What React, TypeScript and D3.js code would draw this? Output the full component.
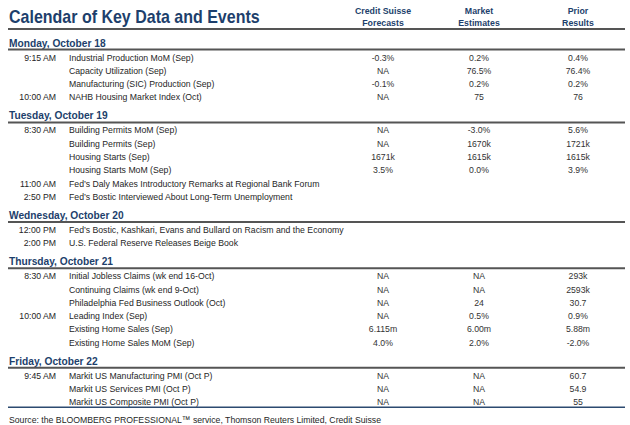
import React from 'react';
import * as d3 from 'd3';

const title = 'Calendar of Key Data and Events';
const columnHeaders = [['Credit Suisse', 'Forecasts'], ['Market', 'Estimates'], ['Prior', 'Results']];
const days = ['Monday, October 18', 'Tuesday, October 19', 'Wednesday, October 20', 'Thursday, October 21', 'Friday, October 22'];
const dayIndex = [0, 0, 0, 0, 1, 1, 1, 1, 1, 1, 2, 2, 3, 3, 3, 3, 3, 3, 4, 4, 4];
const times = ['9:15 AM', '', '', '10:00 AM', '8:30 AM', '', '', '', '11:00 AM', '2:50 PM', '12:00 PM', '2:00 PM', '8:30 AM', '', '', '10:00 AM', '', '', '9:45 AM', '', ''];
const events = [
  'Industrial Production MoM (Sep)',
  'Capacity Utilization (Sep)',
  'Manufacturing (SIC) Production (Sep)',
  'NAHB Housing Market Index (Oct)',
  'Building Permits MoM (Sep)',
  'Building Permits (Sep)',
  'Housing Starts (Sep)',
  'Housing Starts MoM (Sep)',
  'Fed\u2019s Daly Makes Introductory Remarks at Regional Bank Forum',
  'Fed\u2019s Bostic Interviewed About Long-Term Unemployment',
  'Fed\u2019s Bostic, Kashkari, Evans and Bullard on Racism and the Economy',
  'U.S. Federal Reserve Releases Beige Book',
  'Initial Jobless Claims (wk end 16-Oct)',
  'Continuing Claims (wk end 9-Oct)',
  'Philadelphia Fed Business Outlook (Oct)',
  'Leading Index (Sep)',
  'Existing Home Sales (Sep)',
  'Existing Home Sales MoM (Sep)',
  'Markit US Manufacturing PMI (Oct P)',
  'Markit US Services PMI (Oct P)',
  'Markit US Composite PMI (Oct P)',
];
const csForecasts = ['-0.3%', 'NA', '-0.1%', 'NA', 'NA', 'NA', '1671k', '3.5%', '', '', '', '', 'NA', 'NA', 'NA', 'NA', '6.115m', '4.0%', 'NA', 'NA', 'NA'];
const marketEstimates = ['0.2%', '76.5%', '0.2%', '75', '-3.0%', '1670k', '1615k', '0.0%', '', '', '', '', 'NA', 'NA', '24', '0.5%', '6.00m', '2.0%', 'NA', 'NA', 'NA'];
const priorResults = ['0.4%', '76.4%', '0.2%', '76', '5.6%', '1721k', '1615k', '3.9%', '', '', '', '', '293k', '2593k', '30.7', '0.9%', '5.88m', '-2.0%', '60.7', '54.9', '55'];
const sourceNote = 'Source: the BLOOMBERG PROFESSIONAL\u2122 service, Thomson Reuters Limited, Credit Suisse';

const W = 630;
const H = 425;
const FONT = '"Liberation Sans", Arial, Helvetica, sans-serif';
const NAVY = '#1d3f6c';
const TEXT = '#262626';
const RULE = '#555555';

type TProps = {
  x: number; y: number; sx: number; size: number; anchor?: string; bold?: boolean; fill: string; children: React.ReactNode;
};
function T({ x, y, sx, size, anchor = 'start', bold = false, fill, children }: TProps) {
  return (
    <text transform={`translate(${x},${y}) scale(${sx},1)`} textAnchor={anchor} fontSize={size}
      fontWeight={bold ? 'bold' : 'normal'} fill={fill}>{children}</text>
  );
}

export default function App() {
  const columnX = d3.scaleOrdinal<number, number>().domain([0, 1, 2]).range([383, 479, 578]);
  const rowY = d3.scaleLinear().domain([0, 1]).range([57, 70.3]);
  const dayGap = 19.7;
  const yOf = (i: number) => rowY(i) + dayIndex[i] * dayGap;
  const valueCols = [csForecasts, marketEstimates, priorResults];

  const dayRules = days.map((_, d) => yOf(dayIndex.indexOf(d)) - 7.5);
  const lastY = yOf(events.length - 1);
  const BSX = 0.88;
  const BS = 8.7 / BSX;

  return (
    <svg width={W} height={H} style={{ position: 'absolute', left: 0, top: 0, background: '#fff' }} fontFamily={FONT}>
      <rect width={W} height={H} fill="#fff" />
      <T x={9} y={23} sx={0.86} size={16 / 0.86} bold fill={NAVY}>{title}</T>
      {columnHeaders.map((lines, c) => (
        <g key={c}>
          {lines.map((l, k) => (
            <T key={k} x={columnX(c)} y={13.8 + k * 12} sx={0.9} size={8.8 / 0.9} anchor="middle" bold fill={NAVY}>{l}</T>
          ))}
        </g>
      ))}
      <line x1={8} x2={625} y1={29} y2={29} stroke={RULE} strokeWidth={2} />
      {days.map((d, k) => (
        <g key={d}>
          <T x={9} y={dayRules[k] - 3} sx={0.93} size={10.2 / 0.93} bold fill={NAVY}>{d}</T>
          <line x1={8} x2={625} y1={dayRules[k]} y2={dayRules[k]} stroke={RULE} strokeWidth={2} />
        </g>
      ))}
      {events.map((e, i) => {
        const y = yOf(i) + 3.5;
        return (
          <g key={i}>
            {times[i] && <T x={56} y={y} sx={BSX} size={BS} anchor="end" fill={TEXT}>{times[i]}</T>}
            <T x={69} y={y} sx={BSX} size={BS} fill={TEXT}>{e}</T>
            {valueCols.map((col, c) => col[i] ? (
              <T key={c} x={columnX(c)} y={y} sx={BSX} size={BS} anchor="middle" fill="#333">{col[i]}</T>
            ) : null)}
          </g>
        );
      })}
      <line x1={8} x2={625} y1={lastY + 5.5} y2={lastY + 5.5} stroke="#2c4a70" strokeWidth={1.5} />
      <T x={9} y={422.5} sx={BSX} size={BS} fill={TEXT}>{sourceNote}</T>
    </svg>
  );
}
